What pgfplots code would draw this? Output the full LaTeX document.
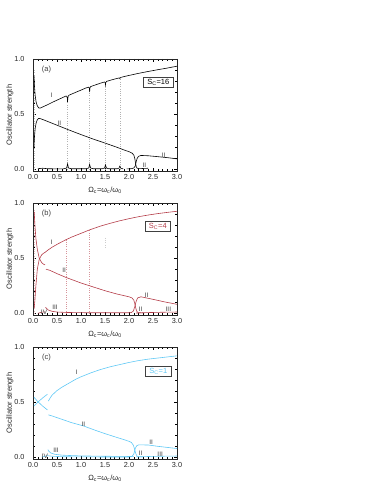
\documentclass[border=0pt]{standalone}
\usepackage{fontspec}
\setmainfont{Liberation Sans}
\usepackage{pgfplots}
\pgfplotsset{compat=1.18}
\definecolor{cred}{RGB}{180,60,72}
\definecolor{ccyan}{RGB}{95,200,245}

\pgfplotsset{
  panel/.style={
    scale only axis, width=144pt, height=112pt,
    xmin=0, xmax=3, ymin=-0.015, ymax=1,
    xtick={0,0.5,1,1.5,2,2.5,3}, xticklabels={0.0,0.5,1.0,1.5,2.0,2.5,3.0},
    ytick={0,0.5,1}, yticklabels={0.0,0.5,1.0},
    minor x tick num=4, minor y tick num=4,
    major tick length=3pt, minor tick length=1.6pt,
    tick style={black, line width=0.5pt},
    axis line style={line width=0.9pt, black!85},
    tick label style={font=\fontsize{7.3}{8}\selectfont, text=black!85},
    yticklabel style={xshift=-5pt},
    xlabel={Ω\textsubscript{c}=ω\textsubscript{c}/ω\textsubscript{0}},
    ylabel={Oscillator strength},
    label style={font=\fontsize{7.5}{9}\selectfont, text=black!85},
    ylabel style={at={(axis description cs:-0.16,0.5)}, anchor=center},
    clip=true,
  },
  crv/.style={line width=0.6pt, no marks},
  res/.style={dotted, line width=0.3pt, no marks},
}
\tikzset{
  lab/.style={font=\fontsize{6.5}{7}\selectfont, text=black!75, inner sep=0.5pt},
  sbox/.style={draw=black!75, line width=0.7pt, inner xsep=4pt, inner ysep=2pt, fill=white, font=\fontsize{7.5}{9}\selectfont},
}

\begin{document}
\begin{tikzpicture}
\useasboundingbox (0,0) rectangle (382pt,-494pt);

% ---------------- (a) S_C = 16
\begin{axis}[panel, at={(33pt,-59pt)}, anchor=north west]
  \addplot[res, black!25] coordinates {(0.02,0) (0.02,0.9)};
  \addplot[res, black!30] coordinates {(0.72,0) (0.72,0.62)};
  \addplot[res, black!30] coordinates {(1.18,0) (1.18,0.71)};
  \addplot[res, black!30] coordinates {(1.51,0) (1.51,0.77)};
  \addplot[res, black!30] coordinates {(1.81,0) (1.81,0.82)};
  % upper-left + branch I
  \addplot[crv, black] coordinates {
    (0.02,0.85) (0.03,0.76) (0.045,0.67) (0.065,0.61) (0.09,0.575) (0.12,0.556)
    (0.15,0.555) (0.2,0.565) (0.3,0.585) (0.4,0.607) (0.5,0.627) (0.6,0.647)
    (0.69,0.665) (0.705,0.66) (0.715,0.645) (0.72,0.61) (0.725,0.645) (0.735,0.665)
    (0.75,0.672) (0.9,0.7) (1.0,0.718) (1.1,0.737) (1.16,0.745) (1.175,0.735)
    (1.18,0.70) (1.185,0.735) (1.2,0.75) (1.3,0.765) (1.4,0.78) (1.49,0.792)
    (1.505,0.785) (1.51,0.765) (1.515,0.785) (1.53,0.797) (1.6,0.806) (1.7,0.818)
    (1.8,0.829) (1.81,0.822) (1.815,0.829) (1.83,0.833) (1.9,0.841) (2.0,0.851)
    (2.2,0.87) (2.4,0.887) (2.6,0.903) (2.8,0.918) (3.0,0.935)};
  % lower-left + branch II
  \addplot[crv, black] coordinates {
    (0.02,0.2) (0.03,0.29) (0.045,0.37) (0.065,0.42) (0.09,0.45) (0.12,0.462)
    (0.15,0.46) (0.2,0.452) (0.3,0.435) (0.5,0.4) (0.7,0.365) (1.0,0.315)
    (1.25,0.275) (1.5,0.238) (1.75,0.2) (1.9,0.175) (2.0,0.16) (2.06,0.148)
    (2.1,0.13) (2.12,0.10) (2.135,0.06) (2.15,0.025) (2.17,0.01) (2.22,0.006)
    (2.3,0.008) (2.4,0.01)};
  % upper-right II
  \addplot[crv, black] coordinates {
    (1.95,0.004) (2.05,0.006) (2.1,0.012) (2.13,0.03) (2.15,0.07) (2.17,0.1)
    (2.2,0.118) (2.25,0.126) (2.4,0.123) (2.6,0.115) (2.8,0.106) (3.0,0.095)};
  % baseline with resonance cusps
  \addplot[crv, black] coordinates {
    (0.1,0.006) (0.2,0.01) (0.3,0.006) (0.5,0.004) (0.64,0.005) (0.7,0.012)
    (0.72,0.05) (0.74,0.012) (0.8,0.005) (1.1,0.005) (1.16,0.012) (1.18,0.045)
    (1.2,0.012) (1.26,0.005) (1.44,0.005) (1.49,0.012) (1.51,0.04) (1.53,0.012)
    (1.58,0.005) (1.75,0.005) (1.79,0.01) (1.81,0.03) (1.83,0.01) (1.88,0.004)};
  \node[lab] at (axis cs:0.28,0.9) {\fontsize{7.5}{9}\selectfont(a)};
  \node[lab] at (axis cs:0.39,0.67) {I};
  \node[lab] at (axis cs:0.55,0.42) {II};
  \node[lab] at (axis cs:2.72,0.13) {II};
  \node[lab] at (axis cs:2.32,0.035) {II};
  \node[sbox] at (axis cs:2.61,0.79) {S\textsubscript{C}=16};
\end{axis}

% ---------------- (b) S_C = 4
\begin{axis}[panel, at={(33pt,-203pt)}, anchor=north west]
  \addplot[res, cred!35] coordinates {(0.02,0) (0.02,0.95)};
  \addplot[res, cred!55] coordinates {(0.69,0) (0.69,0.668)};
  \addplot[res, cred!55] coordinates {(1.17,0) (1.17,0.755)};
  \addplot[res, black!20] coordinates {(1.5,0.6) (1.5,0.7)};
  % descending left
  \addplot[crv, cred] coordinates {
    (0.025,0.92) (0.04,0.8) (0.06,0.68) (0.09,0.58) (0.13,0.5) (0.18,0.46)
    (0.22,0.445) (0.25,0.44)};
  % rising left + branch I
  \addplot[crv, cred] coordinates {
    (0.025,0.05) (0.04,0.12) (0.06,0.25) (0.09,0.4) (0.13,0.49) (0.18,0.53)
    (0.22,0.545) (0.25,0.552) (0.3,0.57) (0.4,0.6) (0.5,0.625) (0.6,0.648)
    (0.69,0.668) (0.8,0.69) (1.0,0.725) (1.17,0.755) (1.4,0.79) (1.6,0.815)
    (1.8,0.838) (2.0,0.858) (2.2,0.876) (2.4,0.891) (2.6,0.904) (2.8,0.915)
    (3.0,0.925)};
  % branch II
  \addplot[crv, cred] coordinates {
    (0.27,0.40) (0.35,0.39) (0.5,0.36) (0.69,0.325) (1.0,0.275) (1.25,0.24)
    (1.5,0.205) (1.75,0.175) (1.9,0.16) (2.0,0.15) (2.06,0.14) (2.1,0.12)
    (2.12,0.09) (2.14,0.05) (2.16,0.02) (2.19,0.006) (2.3,0.004)};
  % upper-right II
  \addplot[crv, cred] coordinates {
    (2.0,0.005) (2.05,0.008) (2.09,0.02) (2.12,0.06) (2.15,0.11) (2.18,0.14)
    (2.25,0.15) (2.5,0.127) (2.75,0.103) (3.0,0.082)};
  % III
  \addplot[crv, cred] coordinates {
    (0.26,0.055) (0.28,0.045) (0.32,0.03) (0.4,0.018) (0.5,0.012) (0.7,0.008)
    (1.0,0.006) (1.5,0.005) (2.0,0.005)};
  \addplot[crv, cred] coordinates {
    (2.15,0.003) (2.4,0.007) (2.7,0.01) (3.0,0.012)};
  % IV
  \addplot[crv, cred] coordinates {(0.1,0.0) (0.18,0.01) (0.25,0.014)};
  \node[lab] at (axis cs:0.28,0.9) {\fontsize{7.5}{9}\selectfont(b)};
  \node[lab] at (axis cs:0.39,0.64) {I};
  \node[lab] at (axis cs:0.65,0.39) {II};
  \node[lab] at (axis cs:0.46,0.055) {III};
  \node[lab] at (axis cs:0.23,0.01) {IV};
  \node[lab] at (axis cs:2.37,0.16) {II};
  \node[lab] at (axis cs:2.24,0.035) {II};
  \node[lab] at (axis cs:2.82,0.035) {III};
  \node[sbox, text=cred] at (axis cs:2.6,0.79) {S\textsubscript{C}=4};
\end{axis}

% ---------------- (c) S_C = 1
\begin{axis}[panel, at={(33pt,-347pt)}, anchor=north west]
  % crossing lines at left
  \addplot[crv, ccyan] coordinates {(0.02,0.465) (0.1,0.5) (0.2,0.538) (0.3,0.572)};
  \addplot[crv, ccyan] coordinates {(0.02,0.545) (0.1,0.505) (0.2,0.465) (0.3,0.43)};
  % branch I
  \addplot[crv, ccyan] coordinates {
    (0.32,0.51) (0.36,0.54) (0.4,0.565) (0.5,0.605) (0.6,0.635) (0.7,0.66)
    (0.8,0.685) (0.9,0.71) (1.0,0.73) (1.2,0.765) (1.4,0.795) (1.6,0.82)
    (1.8,0.84) (2.0,0.86) (2.2,0.877) (2.4,0.89) (2.6,0.9) (2.8,0.91) (3.0,0.92)};
  % branch II
  \addplot[crv, ccyan] coordinates {
    (0.32,0.385) (0.4,0.375) (0.6,0.345) (0.8,0.315) (1.05,0.285) (1.3,0.245)
    (1.5,0.215) (1.75,0.18) (1.9,0.16) (2.0,0.145) (2.05,0.135) (2.09,0.11)
    (2.12,0.07) (2.14,0.035) (2.17,0.01) (2.22,0.004) (2.3,0.004)};
  % upper-right II
  \addplot[crv, ccyan] coordinates {
    (2.02,0.005) (2.06,0.008) (2.1,0.03) (2.13,0.08) (2.16,0.105) (2.2,0.113)
    (2.4,0.112) (2.6,0.1) (2.8,0.09) (3.0,0.08)};
  % III
  \addplot[crv, ccyan] coordinates {
    (0.31,0.07) (0.33,0.055) (0.37,0.04) (0.45,0.028) (0.6,0.02) (0.8,0.016)
    (1.0,0.013) (1.5,0.01) (2.0,0.008) (2.1,0.006)};
  \addplot[crv, ccyan] coordinates {
    (2.15,0.004) (2.5,0.009) (3.0,0.012)};
  % IV
  \addplot[crv, ccyan] coordinates {
    (0.18,0.002) (0.3,0.015) (0.4,0.01) (0.6,0.006) (1.0,0.004) (2.0,0.003)};
  \node[lab] at (axis cs:0.28,0.9) {\fontsize{7.5}{9}\selectfont(c)};
  \node[lab] at (axis cs:0.91,0.77) {I};
  \node[lab] at (axis cs:1.05,0.3) {II};
  \node[lab] at (axis cs:0.48,0.065) {III};
  \node[lab] at (axis cs:0.25,0.01) {IV};
  \node[lab] at (axis cs:2.46,0.14) {II};
  \node[lab] at (axis cs:2.24,0.04) {II};
  \node[lab] at (axis cs:2.65,0.03) {III};
  \node[sbox, text=ccyan] at (axis cs:2.61,0.78) {S\textsubscript{C}=1};
\end{axis}
\end{tikzpicture}
\end{document}
